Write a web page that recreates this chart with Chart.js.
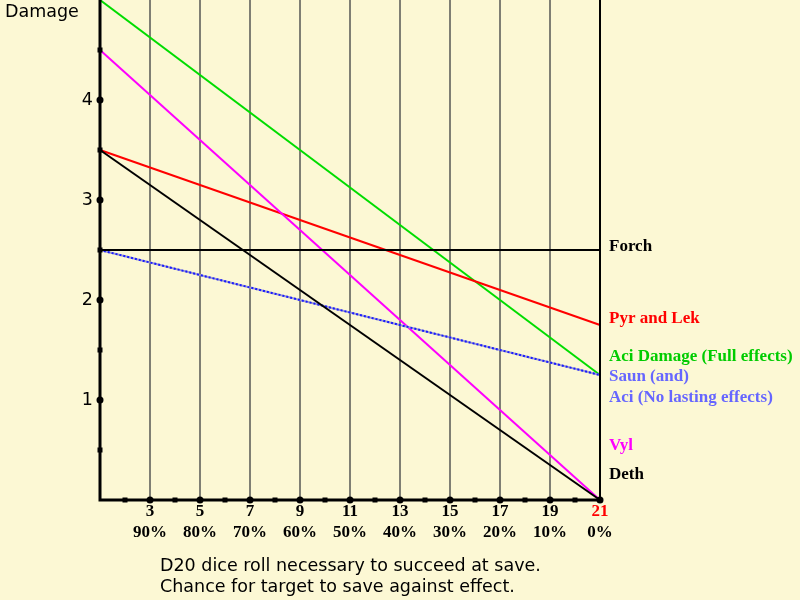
<!DOCTYPE html>
<html>
<head>
<meta charset="utf-8">
<script src="https://cdn.jsdelivr.net/npm/chart.js@4"></script>
<style>
  html, body { margin: 0; padding: 0; background: #fcf8d4; }
  #wrap { width: 800px; height: 600px; }
</style>
</head>
<body>
<div id="wrap"><canvas id="chart" width="800" height="600"></canvas></div>
<script>
// Dice roll endpoints (x) and damage values at each end
const rolls = [1, 21];
const forch = [2.5, 2.5];
const pyrLek = [3.5, 1.75];
const aciFull = [5, 1.25];
const aciNoLasting = [2.5, 1.25];
const vyl = [4.5, 0];
const deth = [3.5, 0];

const gridRolls = [3, 5, 7, 9, 11, 13, 15, 17, 19];
const rollLabels = [3, 5, 7, 9, 11, 13, 15, 17, 19, 21];
const percentLabels = ['90%', '80%', '70%', '60%', '50%', '40%', '30%', '20%', '10%', '0%'];
const damageTicks = [1, 2, 3, 4];

// Legend texts on the right side
const legendTexts = ['Forch', 'Pyr and Lek', 'Aci Damage (Full effects)', 'Saun (and)', 'Aci (No lasting effects)', 'Vyl', 'Deth'];
const legendColors = ['#000000', '#ff0000', '#00cc00', '#6666ff', '#6666ff', '#ff00ff', '#000000'];
const legendY = [247, 319, 357, 377, 398, 446, 475];

function pts(ys) {
    return rolls.map((x, i) => ({ x: x, y: ys[i] }));
}

function line(label, ys, color, extra) {
    return Object.assign({
        label: label,
        data: pts(ys),
        borderColor: color,
        borderWidth: 2,
        pointRadius: 0,
        tension: 0,
        clip: false
    }, extra || {});
}

const background = {
    id: 'background',
    beforeDraw(chart) {
        const c = chart.ctx;
        c.save();
        c.fillStyle = '#fcf8d4';
        c.fillRect(0, 0, chart.width, chart.height);
        // vertical grid lines
        const xs = chart.scales.x, ys = chart.scales.y;
        c.strokeStyle = '#7f7f74';
        c.lineWidth = 2;
        gridRolls.forEach(v => {
            const px = Math.round(xs.getPixelForValue(v));
            c.beginPath();
            c.moveTo(px, ys.getPixelForValue(5));
            c.lineTo(px, ys.getPixelForValue(0));
            c.stroke();
        });
        c.restore();
    },
    afterDatasetsDraw(chart) {
        const c = chart.ctx;
        const xs = chart.scales.x, ys = chart.scales.y;
        const x0 = xs.getPixelForValue(1), x1 = xs.getPixelForValue(21);
        const y0 = ys.getPixelForValue(0), y1 = ys.getPixelForValue(5);
        c.save();
        c.strokeStyle = '#000';
        // left axis and bottom axis
        c.lineWidth = 3;
        c.beginPath();
        c.moveTo(x0, y1); c.lineTo(x0, y0 + 1.5);
        c.moveTo(x0 - 1.5, y0); c.lineTo(x1, y0);
        c.stroke();
        // right axis
        c.lineWidth = 2;
        c.beginPath();
        c.moveTo(x1, y1); c.lineTo(x1, y0);
        c.stroke();

        c.fillStyle = '#000';
        // y ticks
        for (let v = 0.5; v < 5; v += 0.5) {
            const py = ys.getPixelForValue(v);
            if (Number.isInteger(v)) {
                c.beginPath(); c.arc(x0, py, 3.5, 0, Math.PI * 2); c.fill();
            } else {
                c.fillRect(x0 - 2.5, py - 2.5, 5, 5);
            }
        }
        // x ticks
        for (let v = 2; v <= 21; v++) {
            const px = xs.getPixelForValue(v);
            if (v % 2 === 1) {
                c.beginPath(); c.arc(px, y0, 3.5, 0, Math.PI * 2); c.fill();
            } else {
                c.fillRect(px - 2.5, y0 - 2.5, 5, 5);
            }
        }

        // y labels
        c.font = '17.5px "DejaVu Sans"';
        c.textAlign = 'right';
        c.textBaseline = 'middle';
        damageTicks.forEach(v => c.fillText(String(v), x0 - 7, ys.getPixelForValue(v)));
        c.textAlign = 'left';
        c.fillText('Damage', 5, 12);

        // x labels
        c.font = 'bold 17px "Liberation Serif"';
        c.textAlign = 'center';
        rollLabels.forEach((v, i) => {
            const px = xs.getPixelForValue(v);
            c.fillStyle = v === 21 ? '#ff0000' : '#000';
            c.fillText(String(v), px, y0 + 12);
            c.fillStyle = '#000';
            c.fillText(percentLabels[i], px, y0 + 33);
        });

        // bottom captions
        c.font = '17.5px "DejaVu Sans"';
        c.textAlign = 'left';
        c.fillText('D20 dice roll necessary to succeed at save.', 160, 566);
        c.fillText('Chance for target to save against effect.', 160, 587);

        // right-hand legend
        c.font = 'bold 17px "Liberation Serif"';
        legendTexts.forEach((t, i) => {
            c.fillStyle = legendColors[i];
            c.fillText(t, x1 + 9, legendY[i]);
        });
        c.restore();
    }
};

new Chart(document.getElementById('chart'), {
    type: 'line',
    plugins: [background],
    data: {
        // dataset 0 is drawn on top
        datasets: [
            line('Forch', forch, '#000000'),
            line('Deth', deth, '#000000'),
            line('Aci (No lasting effects)', aciNoLasting, '#1a1aff', { borderDash: [2, 2] }),
            line('Aci base', aciNoLasting, '#9a9ad0'),
            line('Vyl', vyl, '#ff00ff'),
            line('Pyr and Lek', pyrLek, '#ff0000'),
            line('Aci Damage (Full effects)', aciFull, '#00dd00')
        ]
    },
    options: {
        responsive: false,
        animation: false,
        events: [],
        layout: { padding: { left: 100, right: 200, top: 0, bottom: 100 } },
        plugins: { legend: { display: false }, tooltip: { enabled: false } },
        scales: {
            x: { type: 'linear', min: 1, max: 21, display: false },
            y: { type: 'linear', min: 0, max: 5, display: false }
        }
    }
});
</script>
</body>
</html>
